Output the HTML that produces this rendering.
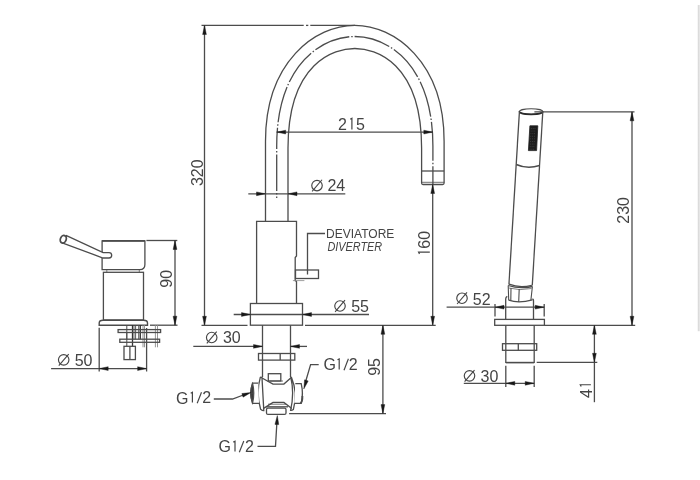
<!DOCTYPE html>
<html><head><meta charset="utf-8"><style>
html,body{margin:0;padding:0;background:#fff;overflow:hidden;width:700px;height:480px;}
svg{display:block;will-change:transform;}
text{font-family:"Liberation Sans", sans-serif;}
</style></head><body>
<svg width="700" height="480" viewBox="0 0 700 480">
<rect width="700" height="480" fill="#fff"/>
<line x1="201.5" y1="25.4" x2="303.7" y2="25.4" stroke="#4c4c4c" stroke-width="1.3" />
<line x1="306" y1="25.4" x2="308.3" y2="25.4" stroke="#4c4c4c" stroke-width="1.3" />
<line x1="310.3" y1="25.4" x2="355" y2="25.4" stroke="#4c4c4c" stroke-width="1.3" />
<line x1="204.5" y1="25.5" x2="204.5" y2="325.3" stroke="#4c4c4c" stroke-width="1.3" />
<path d="M204.50,25.50 L206.40,34.50 L202.60,34.50 Z" fill="#181818" stroke="#181818" stroke-width="0.4"/>
<path d="M204.50,325.30 L202.60,316.30 L206.40,316.30 Z" fill="#181818" stroke="#181818" stroke-width="0.4"/>
<text x="0" y="0" transform="translate(202.70,186.10) rotate(-90)" font-size="16.0" style="" fill="#444444">320</text>
<line x1="201.5" y1="325.3" x2="247.5" y2="325.3" stroke="#4c4c4c" stroke-width="1.3" />
<path d="M265.5,221.3 V141.2 C265.5,61.5 315.6,25.3 354.8,25.3 C394.0,25.3 444.1,61.5 444.1,141.2 V183" stroke="#4c4c4c" stroke-width="1.3" fill="none" />
<path d="M288.0,221.3 V148.2 C288.0,62.1 334.7,48.5 354.8,48.5 C374.90000000000003,48.5 421.6,62.1 421.6,148.2 V183" stroke="#4c4c4c" stroke-width="1.3" fill="none" />
<path d="M276.7,198 V146.1" stroke="#4c4c4c" stroke-width="1.3" fill="none" stroke-dasharray="36.5 2 1.5 2" stroke-dashoffset="35"/>
<path d="M276.7,146.1 C276.7,62.9 323.2,36.5 354.8,36.5 C386.4,36.5 432.9,62.9 432.9,146.1" stroke="#4c4c4c" stroke-width="1.3" fill="none" stroke-dasharray="36.5 2 1.5 2" stroke-dashoffset="18.25"/>
<path d="M432.9,146.1 V184.5" stroke="#4c4c4c" stroke-width="1.3" fill="none" stroke-dasharray="36.5 2 1.5 2" stroke-dashoffset="21.85"/>
<path d="M421.6,183 Q421.6,184.5 423,184.5 L442.6,184.5 Q444.1,184.5 444.1,183" stroke="#4c4c4c" stroke-width="1.3" fill="none" />
<line x1="421.6" y1="171" x2="444.1" y2="171" stroke="#4c4c4c" stroke-width="1.3" />
<line x1="421.6" y1="182.3" x2="444.1" y2="182.3" stroke="#4c4c4c" stroke-width="0.8" />
<line x1="276.7" y1="132.1" x2="432.8" y2="132.1" stroke="#4c4c4c" stroke-width="1.3" />
<path d="M276.70,132.10 L285.70,130.20 L285.70,134.00 Z" fill="#181818" stroke="#181818" stroke-width="0.4"/>
<path d="M432.80,132.10 L423.80,134.00 L423.80,130.20 Z" fill="#181818" stroke="#181818" stroke-width="0.4"/>
<text x="337.90" y="129.90" font-size="16.0" style="" fill="#444444">2</text>
<text x="355.90" y="129.90" font-size="16.0" style="" fill="#444444">5</text>
<path d="M350.20,119.20 L351.90,118.30 V129.50" stroke="#444444" stroke-width="1.2" fill="none"/>
<line x1="248.3" y1="193.8" x2="345.3" y2="193.8" stroke="#4c4c4c" stroke-width="1.3" />
<path d="M265.50,193.80 L256.50,195.70 L256.50,191.90 Z" fill="#181818" stroke="#181818" stroke-width="0.4"/>
<path d="M288.00,193.80 L297.00,191.90 L297.00,195.70 Z" fill="#181818" stroke="#181818" stroke-width="0.4"/>
<text x="327.40" y="191.10" font-size="16.0" style="" fill="#444444">24</text>
<circle cx="317.00" cy="185.55" r="5.25" stroke="#444444" stroke-width="1.15" fill="none"/>
<line x1="312.10" y1="191.35" x2="322.00" y2="179.75" stroke="#444444" stroke-width="1.1"/>
<line x1="432.7" y1="184.5" x2="432.7" y2="325.3" stroke="#4c4c4c" stroke-width="1.3" />
<path d="M432.70,184.50 L434.60,193.50 L430.80,193.50 Z" fill="#181818" stroke="#181818" stroke-width="0.4"/>
<path d="M432.70,325.30 L430.80,316.30 L434.60,316.30 Z" fill="#181818" stroke="#181818" stroke-width="0.4"/>
<text x="0" y="0" transform="translate(429.80,248.70) rotate(-90)" font-size="16.0" style="" fill="#444444">60</text>
<path d="M419.50,253.90 L418.60,252.20 H429.80" stroke="#444444" stroke-width="1.2" fill="none"/>
<path d="M256.6,303.5 V221.4 H296.5 V256 L295.2,257.5 V280.6 L296.5,281.5 V303.5" stroke="#4c4c4c" stroke-width="1.3" fill="none" />
<rect x="295.5" y="270" width="23.0" height="8.5" rx="0" stroke="#4c4c4c" stroke-width="1.3" fill="none"/>
<line x1="292.9" y1="280.6" x2="304.4" y2="280.6" stroke="#888" stroke-width="0.8" />
<path d="M307.5,274.4 V233.5 H325" stroke="#4c4c4c" stroke-width="1.3" fill="none" />
<text x="326.10" y="238.20" font-size="12.0" style="" fill="#444444">DEVIATORE</text>
<text x="327.40" y="250.50" font-size="12.0" textLength="54.82" lengthAdjust="spacingAndGlyphs" style="font-style:italic;" fill="#444444">DIVERTER</text>
<rect x="250.4" y="303.5" width="52.1" height="21.7" rx="0" stroke="#4c4c4c" stroke-width="1.3" fill="none"/>
<line x1="233.7" y1="314.5" x2="302.5" y2="314.5" stroke="#4c4c4c" stroke-width="1.3" />
<path d="M250.50,314.50 L241.50,316.40 L241.50,312.60 Z" fill="#181818" stroke="#181818" stroke-width="0.4"/>
<line x1="302.5" y1="314.5" x2="369" y2="314.5" stroke="#4c4c4c" stroke-width="1.3" />
<path d="M302.50,314.50 L311.50,312.60 L311.50,316.40 Z" fill="#181818" stroke="#181818" stroke-width="0.4"/>
<text x="351.20" y="312.20" font-size="16.0" style="" fill="#444444">55</text>
<circle cx="340.00" cy="306.00" r="5.25" stroke="#444444" stroke-width="1.15" fill="none"/>
<line x1="335.10" y1="311.80" x2="345.00" y2="300.20" stroke="#444444" stroke-width="1.1"/>
<line x1="305" y1="325.3" x2="435.7" y2="325.3" stroke="#4c4c4c" stroke-width="1.3" />
<line x1="262.5" y1="325.2" x2="262.5" y2="377" stroke="#4c4c4c" stroke-width="1.3" />
<line x1="290.5" y1="325.2" x2="290.5" y2="377" stroke="#4c4c4c" stroke-width="1.3" />
<line x1="193.3" y1="346.4" x2="262.5" y2="346.4" stroke="#4c4c4c" stroke-width="1.3" />
<path d="M262.50,346.40 L253.50,348.30 L253.50,344.50 Z" fill="#181818" stroke="#181818" stroke-width="0.4"/>
<line x1="290.5" y1="346.4" x2="307" y2="346.4" stroke="#4c4c4c" stroke-width="1.3" />
<path d="M290.50,346.40 L299.50,344.50 L299.50,348.30 Z" fill="#181818" stroke="#181818" stroke-width="0.4"/>
<text x="222.90" y="343.20" font-size="16.0" style="" fill="#444444">30</text>
<circle cx="211.70" cy="337.50" r="5.25" stroke="#444444" stroke-width="1.15" fill="none"/>
<line x1="206.80" y1="343.30" x2="216.70" y2="331.70" stroke="#444444" stroke-width="1.1"/>
<rect x="258.5" y="353.5" width="36.3" height="6.6" rx="0" stroke="#4c4c4c" stroke-width="1.3" fill="none"/>
<line x1="280.2" y1="353.5" x2="280.2" y2="360.1" stroke="#4c4c4c" stroke-width="1.3" />
<rect x="268.3" y="373.7" width="12.5" height="7.3" rx="0" stroke="#4c4c4c" stroke-width="1.3" fill="none"/>
<path d="M260.3,377.4 Q255.8,393 260.6,409.2 Q262.6,410.8 263.8,410.6 Q262.8,393 262,377.6 Q261.2,377 260.3,377.4 Z" stroke="#4c4c4c" stroke-width="1.3" fill="#fff" />
<path d="M291.5,377.4 Q298,393 293.4,409.4 Q291.8,410.6 290.6,410.3 Q294.6,393 290.8,377.4 Z" stroke="#4c4c4c" stroke-width="1.3" fill="#fff" />
<path d="M262,378 L273,384.1 H283.9 L290.7,378" stroke="#4c4c4c" stroke-width="1.3" fill="none" />
<line x1="269.4" y1="381" x2="283" y2="381" stroke="#4c4c4c" stroke-width="0.8" />
<path d="M263.2,408.6 L273,402.4 H283.9 L291.8,408.6" stroke="#4c4c4c" stroke-width="1.3" fill="none" />
<line x1="268" y1="404.2" x2="286" y2="404.2" stroke="#4c4c4c" stroke-width="0.8" />
<line x1="266" y1="406.8" x2="288" y2="406.8" stroke="#4c4c4c" stroke-width="1.3" />
<path d="M258.3,383.1 H252.5 Q249.6,393.2 252.5,403.4 H259" stroke="#4c4c4c" stroke-width="1.3" fill="#fff" />
<path d="M252.6,383.5 Q248.4,393.2 252.6,403.1 Q255,393.2 252.6,383.5 Z" stroke="#4c4c4c" stroke-width="1.2" fill="#3a3a3a" />
<line x1="251" y1="393.2" x2="253.5" y2="393.2" stroke="#4c4c4c" stroke-width="0.8" />
<path d="M295.3,383.6 H301.2 Q303.6,393.5 301.2,403.4 H294.2" stroke="#4c4c4c" stroke-width="1.3" fill="#fff" />
<path d="M302.4,396 Q302.6,401.5 300.5,403.4" stroke="#4c4c4c" stroke-width="1.8" fill="none" />
<rect x="266.5" y="408.1" width="19.5" height="6.3" rx="1.5" stroke="#4c4c4c" stroke-width="1.3" fill="#fff"/>
<line x1="289.1" y1="413.7" x2="386" y2="413.7" stroke="#4c4c4c" stroke-width="1.3" />
<text x="176.00" y="403.90" font-size="16.0" style="" fill="#444444">G</text>
<text x="202.20" y="403.20" font-size="16.0" style="" fill="#444444">2</text>
<path d="M190.70,393.20 L192.40,392.30 V402.60" stroke="#444444" stroke-width="1.2" fill="none"/>
<line x1="197.2" y1="403.3" x2="201.5" y2="392.2" stroke="#444444" stroke-width="1.15"/>
<path d="M213.8,399 H232.5 L246,394" stroke="#4c4c4c" stroke-width="1.3" fill="none" />
<path d="M251.00,392.50 L243.06,397.15 L241.86,393.54 Z" fill="#181818" stroke="#181818" stroke-width="0.4"/>
<text x="218.40" y="451.90" font-size="16.0" style="" fill="#444444">G</text>
<text x="244.90" y="451.90" font-size="16.0" style="" fill="#444444">2</text>
<path d="M233.30,442.10 L235.00,441.20 V451.50" stroke="#444444" stroke-width="1.2" fill="none"/>
<line x1="239.3" y1="452.3" x2="243.8" y2="441" stroke="#444444" stroke-width="1.15"/>
<path d="M257.5,446.3 H275.5 L276.8,424" stroke="#4c4c4c" stroke-width="1.3" fill="none" />
<path d="M277.30,415.50 L278.75,424.58 L274.95,424.39 Z" fill="#181818" stroke="#181818" stroke-width="0.4"/>
<text x="323.50" y="370.00" font-size="16.0" style="" fill="#444444">G</text>
<text x="348.80" y="370.00" font-size="16.0" style="" fill="#444444">2</text>
<path d="M337.50,359.80 L339.20,358.90 V369.40" stroke="#444444" stroke-width="1.2" fill="none"/>
<line x1="344" y1="370.2" x2="348.4" y2="358.8" stroke="#444444" stroke-width="1.15"/>
<path d="M318.7,364.6 H310.6 L305.5,382" stroke="#4c4c4c" stroke-width="1.3" fill="none" />
<path d="M303.80,389.00 L304.57,379.83 L308.21,380.93 Z" fill="#181818" stroke="#181818" stroke-width="0.4"/>
<line x1="382.9" y1="325.3" x2="382.9" y2="413.6" stroke="#4c4c4c" stroke-width="1.3" />
<path d="M382.90,325.30 L384.80,334.30 L381.00,334.30 Z" fill="#181818" stroke="#181818" stroke-width="0.4"/>
<path d="M382.90,413.60 L381.00,404.60 L384.80,404.60 Z" fill="#181818" stroke="#181818" stroke-width="0.4"/>
<text x="0" y="0" transform="translate(379.80,375.80) rotate(-90)" font-size="16.0" style="" fill="#444444">95</text>
<path d="M102.1,269.6 V240.9 H144.9 V264.5 Q144.9,269.6 139.8,269.6 Z" stroke="#4c4c4c" stroke-width="1.3" fill="none" />
<line x1="102.1" y1="240.9" x2="144.9" y2="240.9" stroke="#4c4c4c" stroke-width="1.7" />
<line x1="106.8" y1="269.8" x2="106.8" y2="272.3" stroke="#4c4c4c" stroke-width="0.7" />
<line x1="139.3" y1="269.8" x2="139.3" y2="272.3" stroke="#4c4c4c" stroke-width="0.7" />
<rect x="103.4" y="272.3" width="40.1" height="47.7" rx="0" stroke="#4c4c4c" stroke-width="1.3" fill="none"/>
<path d="M103,320.3 H143.6 Q147.5,320.3 147.5,323 V325.3 H99.2 V323 Q99.2,320.3 103,320.3 Z" stroke="#4c4c4c" stroke-width="1.4" fill="none" />
<path d="M66.5,235.6 L103.1,252.6 H109 A2.7,2.7 0 0 1 109,258 H103 L63.5,243.3 Z" stroke="#4c4c4c" stroke-width="1.3" fill="#fff" />
<ellipse cx="63.3" cy="239.2" rx="2.9" ry="3.9" transform="rotate(20 63.1 239.2)" stroke="#4c4c4c" stroke-width="1.8" fill="#fff"/>
<line x1="146.4" y1="240.5" x2="177.3" y2="240.5" stroke="#4c4c4c" stroke-width="1.3" />
<line x1="150" y1="325.2" x2="177.5" y2="325.2" stroke="#4c4c4c" stroke-width="1.3" />
<line x1="175" y1="240.5" x2="175" y2="325.2" stroke="#4c4c4c" stroke-width="1.3" />
<path d="M175.00,240.50 L176.90,249.50 L173.10,249.50 Z" fill="#181818" stroke="#181818" stroke-width="0.4"/>
<path d="M175.00,325.20 L173.10,316.20 L176.90,316.20 Z" fill="#181818" stroke="#181818" stroke-width="0.4"/>
<text x="0" y="0" transform="translate(171.80,287.70) rotate(-90)" font-size="16.0" style="" fill="#444444">90</text>
<line x1="126.8" y1="325" x2="126.8" y2="339.2" stroke="#4c4c4c" stroke-width="1.0" />
<line x1="132.5" y1="325" x2="132.5" y2="346.3" stroke="#333" stroke-width="1.3" />
<line x1="134" y1="325" x2="134" y2="339.2" stroke="#4c4c4c" stroke-width="0.8" />
<line x1="135.6" y1="325" x2="135.6" y2="339.2" stroke="#4c4c4c" stroke-width="0.9" />
<line x1="138.75" y1="325" x2="138.75" y2="339.2" stroke="#4c4c4c" stroke-width="1.0" />
<line x1="140.3" y1="325" x2="140.3" y2="339.2" stroke="#333" stroke-width="1.3" />
<line x1="143" y1="325" x2="143" y2="347.3" stroke="#8a8a8a" stroke-width="0.9" />
<line x1="144.5" y1="325" x2="144.5" y2="347.3" stroke="#8a8a8a" stroke-width="0.9" />
<line x1="155.4" y1="325" x2="155.4" y2="347.3" stroke="#8a8a8a" stroke-width="0.9" />
<line x1="157.5" y1="325" x2="157.5" y2="347.3" stroke="#8a8a8a" stroke-width="0.9" />
<line x1="126.8" y1="332.5" x2="126.8" y2="346.3" stroke="#4c4c4c" stroke-width="1.0" />
<rect x="118.1" y="329.6" width="42.5" height="2.9" rx="0" stroke="#4c4c4c" stroke-width="1.3" fill="none"/>
<rect x="119.8" y="339.2" width="39.8" height="3.1" rx="0" stroke="#4c4c4c" stroke-width="1.3" fill="none"/>
<rect x="124" y="346.3" width="11.4" height="13.3" rx="0" stroke="#4c4c4c" stroke-width="1.3" fill="none"/>
<line x1="129.9" y1="346.3" x2="129.9" y2="359.6" stroke="#4c4c4c" stroke-width="1.3" />
<line x1="99.2" y1="327.7" x2="99.2" y2="371.5" stroke="#4c4c4c" stroke-width="1.3" />
<line x1="146.6" y1="328" x2="146.6" y2="371.5" stroke="#4c4c4c" stroke-width="1.3" />
<line x1="51.1" y1="368.6" x2="146.6" y2="368.6" stroke="#4c4c4c" stroke-width="1.3" />
<path d="M99.20,368.60 L108.20,366.70 L108.20,370.50 Z" fill="#181818" stroke="#181818" stroke-width="0.4"/>
<path d="M146.60,368.60 L137.60,370.50 L137.60,366.70 Z" fill="#181818" stroke="#181818" stroke-width="0.4"/>
<text x="74.70" y="366.10" font-size="16.0" style="" fill="#444444">50</text>
<circle cx="63.70" cy="359.85" r="5.25" stroke="#444444" stroke-width="1.15" fill="none"/>
<line x1="58.80" y1="365.65" x2="68.70" y2="354.05" stroke="#444444" stroke-width="1.1"/>
<ellipse cx="531.1" cy="111.6" rx="11.8" ry="2.8" stroke="#4c4c4c" stroke-width="1.1" fill="none"/>
<path d="M519.3,111.6 A11.8,2.8 0 0 0 542.9,111.6" stroke="#2a2a2a" stroke-width="1.7" fill="none" />
<path d="M519.4,111.6 L508.93,284.5" stroke="#4c4c4c" stroke-width="1.3" fill="none" />
<path d="M542.8,111.8 L532.27,285.5" stroke="#4c4c4c" stroke-width="1.3" fill="none" />
<path d="M516.19,164.5 Q527.46,169.5 539.53,165.5" stroke="#4c4c4c" stroke-width="1.6" fill="none" />
<path d="M529.9,125.8 L537.8,125.8 L536.6,150.6 L528.4,150.6 Z" stroke="#222" stroke-width="0.8" fill="#1c1c1c" />
<rect x="530.92" y="128.00" width="0.7" height="0.9" fill="#4a4a4a"/>
<rect x="532.82" y="128.00" width="0.7" height="0.9" fill="#4a4a4a"/>
<rect x="534.62" y="128.00" width="0.7" height="0.9" fill="#4a4a4a"/>
<rect x="530.76" y="130.60" width="0.7" height="0.9" fill="#4a4a4a"/>
<rect x="532.66" y="130.60" width="0.7" height="0.9" fill="#4a4a4a"/>
<rect x="534.46" y="130.60" width="0.7" height="0.9" fill="#4a4a4a"/>
<rect x="530.60" y="133.20" width="0.7" height="0.9" fill="#4a4a4a"/>
<rect x="532.50" y="133.20" width="0.7" height="0.9" fill="#4a4a4a"/>
<rect x="534.30" y="133.20" width="0.7" height="0.9" fill="#4a4a4a"/>
<rect x="530.44" y="135.80" width="0.7" height="0.9" fill="#4a4a4a"/>
<rect x="532.34" y="135.80" width="0.7" height="0.9" fill="#4a4a4a"/>
<rect x="534.14" y="135.80" width="0.7" height="0.9" fill="#4a4a4a"/>
<rect x="530.29" y="138.40" width="0.7" height="0.9" fill="#4a4a4a"/>
<rect x="532.19" y="138.40" width="0.7" height="0.9" fill="#4a4a4a"/>
<rect x="533.99" y="138.40" width="0.7" height="0.9" fill="#4a4a4a"/>
<rect x="530.13" y="141.00" width="0.7" height="0.9" fill="#4a4a4a"/>
<rect x="532.03" y="141.00" width="0.7" height="0.9" fill="#4a4a4a"/>
<rect x="533.83" y="141.00" width="0.7" height="0.9" fill="#4a4a4a"/>
<rect x="529.97" y="143.60" width="0.7" height="0.9" fill="#4a4a4a"/>
<rect x="531.87" y="143.60" width="0.7" height="0.9" fill="#4a4a4a"/>
<rect x="533.67" y="143.60" width="0.7" height="0.9" fill="#4a4a4a"/>
<rect x="529.82" y="146.20" width="0.7" height="0.9" fill="#4a4a4a"/>
<rect x="531.72" y="146.20" width="0.7" height="0.9" fill="#4a4a4a"/>
<rect x="533.52" y="146.20" width="0.7" height="0.9" fill="#4a4a4a"/>
<rect x="529.66" y="148.80" width="0.7" height="0.9" fill="#4a4a4a"/>
<rect x="531.56" y="148.80" width="0.7" height="0.9" fill="#4a4a4a"/>
<rect x="533.36" y="148.80" width="0.7" height="0.9" fill="#4a4a4a"/>
<path d="M509,284.1 Q519.5,288.3 531.8,285.3" stroke="#4c4c4c" stroke-width="1.3" fill="none" />
<path d="M508.2,285.5 Q519.5,289.3 532.4,286.5" stroke="#4c4c4c" stroke-width="1.3" fill="none" />
<path d="M508.8,288 Q519.5,291 531.5,288.5" stroke="#4c4c4c" stroke-width="0.7" fill="none" />
<path d="M508.2,285.6 L508.7,300.2 M532.4,286.5 L530.9,300 M511,288 L510.8,300.5 M519.2,289 L518.7,301.9" stroke="#4c4c4c" stroke-width="1.1" fill="none" />
<path d="M508.7,300.2 Q518.7,303.6 532.4,299.9" stroke="#4c4c4c" stroke-width="1.3" fill="none" />
<path d="M505.7,319.4 V299 Q505.7,297.2 507.3,296.4 M533.5,319.4 V300.5 Q533.5,299.2 532.4,298.8" stroke="#4c4c4c" stroke-width="1.3" fill="none" />
<rect x="494.7" y="319.4" width="49.7" height="5.9" rx="0" stroke="#4c4c4c" stroke-width="1.3" fill="none"/>
<line x1="495" y1="304" x2="495" y2="316.4" stroke="#4c4c4c" stroke-width="1.3" />
<line x1="544.2" y1="304" x2="544.2" y2="316.4" stroke="#4c4c4c" stroke-width="1.3" />
<line x1="446.6" y1="307.2" x2="544.2" y2="307.2" stroke="#4c4c4c" stroke-width="1.3" />
<path d="M495.00,307.20 L504.00,305.30 L504.00,309.10 Z" fill="#181818" stroke="#181818" stroke-width="0.4"/>
<path d="M544.20,307.20 L535.20,309.10 L535.20,305.30 Z" fill="#181818" stroke="#181818" stroke-width="0.4"/>
<text x="472.80" y="304.60" font-size="16.0" style="" fill="#444444">52</text>
<circle cx="462.00" cy="298.20" r="5.25" stroke="#444444" stroke-width="1.15" fill="none"/>
<line x1="457.10" y1="304.00" x2="467.00" y2="292.40" stroke="#444444" stroke-width="1.1"/>
<line x1="505.8" y1="325.3" x2="505.8" y2="363" stroke="#4c4c4c" stroke-width="1.3" />
<line x1="534.2" y1="325.3" x2="534.2" y2="363" stroke="#4c4c4c" stroke-width="1.3" />
<line x1="505.8" y1="362.6" x2="534.2" y2="362.6" stroke="#4c4c4c" stroke-width="1.6" />
<rect x="502.5" y="343.7" width="34.2" height="6.6" rx="0" stroke="#4c4c4c" stroke-width="1.3" fill="none"/>
<line x1="518.3" y1="343.7" x2="518.3" y2="350.3" stroke="#4c4c4c" stroke-width="1.3" />
<line x1="536.7" y1="362.3" x2="597.3" y2="362.3" stroke="#4c4c4c" stroke-width="1.3" />
<line x1="544.4" y1="325.3" x2="635.2" y2="325.3" stroke="#4c4c4c" stroke-width="1.3" />
<line x1="505.8" y1="365.8" x2="505.8" y2="387" stroke="#4c4c4c" stroke-width="1.3" />
<line x1="534.2" y1="365.8" x2="534.2" y2="387" stroke="#4c4c4c" stroke-width="1.3" />
<line x1="463.8" y1="383.3" x2="534.2" y2="383.3" stroke="#4c4c4c" stroke-width="1.3" />
<path d="M505.80,383.30 L514.80,381.40 L514.80,385.20 Z" fill="#181818" stroke="#181818" stroke-width="0.4"/>
<path d="M534.20,383.30 L525.20,385.20 L525.20,381.40 Z" fill="#181818" stroke="#181818" stroke-width="0.4"/>
<text x="480.60" y="382.00" font-size="16.0" style="" fill="#444444">30</text>
<circle cx="469.50" cy="375.85" r="5.25" stroke="#444444" stroke-width="1.15" fill="none"/>
<line x1="464.60" y1="381.65" x2="474.50" y2="370.05" stroke="#444444" stroke-width="1.1"/>
<line x1="534.4" y1="111.8" x2="634.5" y2="111.8" stroke="#4c4c4c" stroke-width="1.3" />
<line x1="632" y1="111.8" x2="632" y2="325.3" stroke="#4c4c4c" stroke-width="1.3" />
<path d="M632.00,111.80 L633.90,120.80 L630.10,120.80 Z" fill="#181818" stroke="#181818" stroke-width="0.4"/>
<path d="M632.00,325.30 L630.10,316.30 L633.90,316.30 Z" fill="#181818" stroke="#181818" stroke-width="0.4"/>
<text x="0" y="0" transform="translate(628.90,223.70) rotate(-90)" font-size="16.0" style="" fill="#444444">230</text>
<line x1="594.4" y1="325.3" x2="594.4" y2="402.2" stroke="#4c4c4c" stroke-width="1.3" />
<path d="M594.40,325.30 L596.30,334.30 L592.50,334.30 Z" fill="#181818" stroke="#181818" stroke-width="0.4"/>
<path d="M594.40,362.30 L592.50,353.30 L596.30,353.30 Z" fill="#181818" stroke="#181818" stroke-width="0.4"/>
<text x="0" y="0" transform="translate(591.80,397.90) rotate(-90)" font-size="16.0" style="" fill="#444444">4</text>
<path d="M581.20,386.45 L580.30,384.75 H590.90" stroke="#444444" stroke-width="1.2" fill="none"/>
<defs><linearGradient id="gb" x1="0" x2="1"><stop offset="0" stop-color="#d4d4d4"/><stop offset="1" stop-color="#ebebeb"/></linearGradient></defs><rect x="697.8" y="5" width="2.2" height="326.2" fill="url(#gb)"/>
</svg>
</body></html>
